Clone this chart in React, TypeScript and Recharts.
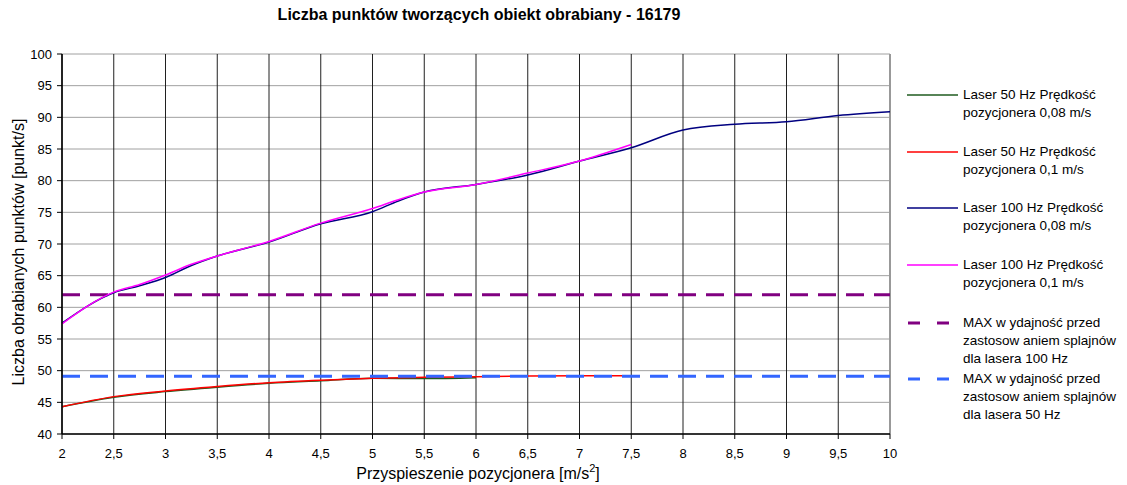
import React from 'react'
import {
  LineChart,
  Line,
  XAxis,
  YAxis,
  CartesianGrid,
  ReferenceLine
} from 'recharts'

// acceleration [m/s^2]
const xValues = [2, 2.5, 2.75, 3, 3.25, 3.5, 4, 4.5, 5, 5.25, 5.5, 6, 6.5, 7, 7.5, 8, 8.5, 9, 9.5, 10]

const laser50v008 = [44.3, 45.8, null, 46.7, null, 47.4, 48.0, 48.4, 48.8, null, 48.75, 48.9, null, null, null, null, null, null, null, null]
const laser50v01 = [44.3, 45.9, null, 46.8, null, 47.5, 48.1, 48.5, 48.8, null, 48.95, 49.05, 49.15, 49.2, 49.2, null, null, null, null, null]
const laser100v008 = [57.5, 62.3, 63.4, 64.7, 66.6, 68.1, 70.3, 73.2, 75.1, 76.8, 78.2, 79.4, 80.9, 83.1, 85.2, 88.0, 88.9, 89.3, 90.3, 90.9]
const laser100v01 = [57.4, 62.4, 63.6, 65.1, 66.8, 68.1, 70.4, 73.3, 75.6, 77.0, 78.2, 79.4, 81.2, 83.1, 85.7, null, null, null, null, null]

const max100 = 62
const max50 = 49.1

const xTicks = [2, 2.5, 3, 3.5, 4, 4.5, 5, 5.5, 6, 6.5, 7, 7.5, 8, 8.5, 9, 9.5, 10]
const yTicks = [40, 45, 50, 55, 60, 65, 70, 75, 80, 85, 90, 95, 100]

const data = xValues.map((x, i) => ({
  x,
  l50a: laser50v008[i],
  l50b: laser50v01[i],
  l100a: laser100v008[i],
  l100b: laser100v01[i]
}))

const FONT = '"Liberation Sans", Arial, sans-serif'

const legendItems = [
  { color: '#1f5b1f', dashed: false, lines: ['Laser 50 Hz Prędkość', 'pozycjonera 0,08 m/s'] },
  { color: '#ff0000', dashed: false, lines: ['Laser 50 Hz Prędkość', 'pozycjonera 0,1 m/s'] },
  { color: '#000080', dashed: false, lines: ['Laser 100 Hz Prędkość', 'pozycjonera 0,08 m/s'] },
  { color: '#ff00ff', dashed: false, lines: ['Laser 100 Hz Prędkość', 'pozycjonera 0,1 m/s'] },
  { color: '#800080', dashed: true, lines: ['MAX w ydajność przed', 'zastosow aniem splajnów', 'dla lasera 100 Hz'] },
  { color: '#3366ff', dashed: true, lines: ['MAX w ydajność przed', 'zastosow aniem splajnów', 'dla lasera 50 Hz'] }
]
// first-line centre of each legend entry
const legendTops = [95, 152, 208, 265, 323, 379]

const fmt = (v: number) => String(v).replace('.', ',')

export default function App() {
  return (
    <div style={{ position: 'relative', width: 1127, height: 485, background: '#fff', fontFamily: FONT }}>
      <style>{'body{margin:0}'}</style>
      <div
        style={{
          position: 'absolute',
          top: 6,
          left: 0,
          width: 958,
          textAlign: 'center',
          fontWeight: 'bold',
          fontSize: 16,
          lineHeight: '18px',
          color: '#000'
        }}
      >
        Liczba punktów tworzących obiekt obrabiany - 16179
      </div>
      <LineChart
        width={1127}
        height={485}
        data={data}
        margin={{ top: 54, right: 237, left: 12, bottom: 21 }}
      >
        <CartesianGrid horizontal={true} vertical={false} stroke="#a0a0a0" />
        <CartesianGrid horizontal={false} vertical={true} stroke="#202020" />
        <ReferenceLine x={10} stroke="#999" strokeWidth={2} />
        <XAxis
          dataKey="x"
          type="number"
          domain={[2, 10]}
          ticks={xTicks}
          tickFormatter={fmt}
          interval={0}
          height={30}
          tick={{ fill: '#000', fontSize: 13, fontFamily: FONT }}
          tickSize={5}
          tickMargin={10}
          axisLine={{ stroke: '#000', strokeWidth: 1.5 }}
          tickLine={{ stroke: '#000' }}
          label={{
            content: () => (
              <text x={478} y={479} textAnchor="middle" fontSize={16} fontFamily={FONT} fill="#000">
                <tspan>Przyspieszenie pozycjonera [m/s</tspan>
                <tspan fontSize={11} dy={-7}>2</tspan>
                <tspan dy={7}>]</tspan>
              </text>
            )
          }}
        />
        <YAxis
          type="number"
          domain={[40, 100]}
          ticks={yTicks}
          interval={0}
          width={50}
          tick={{ fill: '#000', fontSize: 13, fontFamily: FONT }}
          tickSize={5}
          tickMargin={5}
          axisLine={{ stroke: '#000', strokeWidth: 1.5 }}
          tickLine={{ stroke: '#000' }}
          label={{
            content: () => (
              <text
                x={18}
                y={252}
                transform="rotate(-90 18 252)"
                textAnchor="middle"
                dominantBaseline="central"
                fontSize={16}
                fontFamily={FONT}
                fill="#000"
              >
                Liczba obrabianych punktów [punkt/s]
              </text>
            )
          }}
        />
        <ReferenceLine y={max100} stroke="#800080" strokeWidth={3} strokeDasharray="18 10" />
        <Line type="monotone" dataKey="l50a" stroke="#1f5b1f" strokeWidth={1.5} dot={false} connectNulls isAnimationActive={false} />
        <Line type="monotone" dataKey="l50b" stroke="#ff0000" strokeWidth={1.5} dot={false} connectNulls isAnimationActive={false} />
        <ReferenceLine y={max50} stroke="#3366ff" strokeWidth={3} strokeDasharray="18 10" />
        <Line type="monotone" dataKey="l100a" stroke="#000080" strokeWidth={1.5} dot={false} connectNulls isAnimationActive={false} />
        <Line type="monotone" dataKey="l100b" stroke="#ff00ff" strokeWidth={1.5} dot={false} connectNulls isAnimationActive={false} />
      </LineChart>
      {legendItems.map((item, i) => (
        <div key={i} style={{ position: 'absolute', left: 907, top: legendTops[i] - 9 }}>
          <svg width={52} height={18} style={{ position: 'absolute', left: 0, top: 0 }}>
            {item.dashed ? (
              <line x1={1} y1={9} x2={51} y2={9} stroke={item.color} strokeWidth={3} strokeDasharray="12 17" />
            ) : (
              <line x1={0} y1={9} x2={51} y2={9} stroke={item.color} strokeWidth={1.5} />
            )}
          </svg>
          <div style={{ position: 'absolute', left: 56, top: 0, fontSize: 13.5, lineHeight: '18px', whiteSpace: 'nowrap', color: '#000' }}>
            {item.lines.map((t, j) => (
              <div key={j}>{t}</div>
            ))}
          </div>
        </div>
      ))}
    </div>
  )
}
